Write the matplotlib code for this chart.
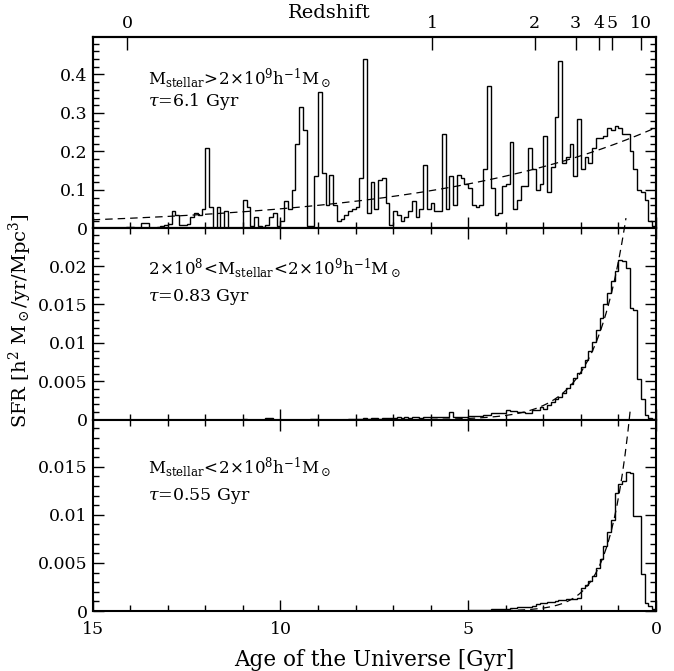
import numpy as np
import matplotlib
matplotlib.use('Agg')
from matplotlib import pyplot as plt
from matplotlib.ticker import MultipleLocator, FuncFormatter

plt.rcParams['font.family'] = 'DejaVu Serif'
plt.rcParams['mathtext.fontset'] = 'dejavuserif'

# histogram bins: 0.1 Gyr wide, listed from age 14.1 Gyr down to 0
bin_width = 0.1
age_start = 14.1

sfr_high = [0.003, 0.003, 0.002, 0.002, 0.013, 0.013, 0.002, 0.002, 0.003, 0.005,
            0.010, 0.012, 0.045, 0.035, 0.010, 0.008, 0.012, 0.030, 0.040, 0.035,
            0.050, 0.210, 0.055, 0.000, 0.055, 0.000, 0.045, 0.000, 0.000, 0.000,
            0.002, 0.075, 0.055, 0.005, 0.030, 0.005, 0.004, 0.010, 0.030, 0.040,
            0.005, 0.020, 0.070, 0.050, 0.100, 0.220, 0.315, 0.255, 0.005, 0.005,
            0.135, 0.355, 0.145, 0.060, 0.140, 0.060, 0.020, 0.025, 0.035, 0.045,
            0.050, 0.055, 0.130, 0.440, 0.040, 0.120, 0.050, 0.125, 0.130, 0.065,
            0.008, 0.045, 0.035, 0.020, 0.030, 0.045, 0.070, 0.030, 0.050, 0.165,
            0.050, 0.065, 0.045, 0.045, 0.245, 0.050, 0.135, 0.060, 0.140, 0.130,
            0.115, 0.105, 0.060, 0.055, 0.060, 0.155, 0.370, 0.105, 0.035, 0.040,
            0.110, 0.115, 0.225, 0.050, 0.075, 0.110, 0.110, 0.210, 0.155, 0.100,
            0.115, 0.240, 0.095, 0.160, 0.290, 0.435, 0.170, 0.185, 0.220, 0.135,
            0.285, 0.155, 0.185, 0.170, 0.210, 0.235, 0.235, 0.240, 0.260, 0.255,
            0.265, 0.260, 0.245, 0.245, 0.200, 0.155, 0.100, 0.095, 0.075, 0.020, 0.005]

sfr_mid = [0, 0, 0, 0, 0, 0, 0, 0, 0, 0,
           0, 0, 0, 0, 0, 0, 0, 0, 0, 0,
           0, 0, 0, 0, 0, 0, 0, 0, 0, 0,
           0, 0.0001, 0, 0, 0, 0, 0, 0.0002, 0.0002, 0,
           0, 0, 0, 0, 0, 0, 0, 0, 0, 0.00005,
           0.00005, 0, 0, 0, 0, 0, 0, 0, 0, 0.00005,
           0.0001, 0.0001, 0.0001, 0.0002, 0.0001, 0.0002, 0.0002, 0.0001, 0.0002, 0.0002,
           0.0002, 0.0002, 0.0003, 0.0002, 0.0003, 0.0002, 0.0003, 0.0003, 0.0002, 0.0003,
           0.0003, 0.0003, 0.0003, 0.0004, 0.0003, 0.0003, 0.0010, 0.0004, 0.0004, 0.0004,
           0.0004, 0.0005, 0.0005, 0.0005, 0.0005, 0.0006, 0.0006, 0.0009, 0.0009, 0.0009,
           0.0009, 0.0013, 0.0011, 0.0011, 0.0010, 0.0010, 0.0009, 0.0009, 0.0012, 0.0012,
           0.0016, 0.0014, 0.0019, 0.0023, 0.0027, 0.0030, 0.0035, 0.0041, 0.0047, 0.0054,
           0.0061, 0.0068, 0.0078, 0.0090, 0.0101, 0.0117, 0.0133, 0.0150, 0.0165, 0.0180,
           0.0193, 0.0208, 0.0207, 0.0198, 0.0145, 0.0143, 0.0053, 0.0027, 0.0006, 0.0002, 0.0001]

sfr_low = [0, 0, 0, 0, 0, 0, 0, 0, 0, 0,
           0, 0, 0, 0, 0, 0, 0, 0, 0, 0,
           0, 0, 0, 0, 0, 0, 0, 0, 0, 0,
           0, 0, 0, 0, 0, 0, 0, 0, 0, 0,
           0, 0, 0, 0, 0, 0, 0, 0, 0, 0,
           0, 0, 0, 0, 0, 0, 0, 0, 0, 0,
           0, 0, 0, 0, 0, 0, 0, 0, 0, 0,
           0, 0, 0, 0, 0, 0, 0, 0, 0, 0,
           0, 0, 0, 0, 0, 0, 0, 0, 0, 0,
           0, 0.0001, 0.0001, 0.0001, 0.0001, 0.0001, 0.0001, 0.0002, 0.0002, 0.0002,
           0.0002, 0.0002, 0.0003, 0.0003, 0.0004, 0.0004, 0.0004, 0.0004, 0.0005, 0.0007,
           0.0008, 0.0008, 0.0009, 0.0009, 0.0010, 0.0011, 0.0011, 0.0012, 0.0013, 0.0013,
           0.0014, 0.0024, 0.0027, 0.0031, 0.0036, 0.0045, 0.0054, 0.0068, 0.0082, 0.0095,
           0.0123, 0.0132, 0.0135, 0.0145, 0.0144, 0.0099, 0.0099, 0.0039, 0.0008, 0.0005, 0.0002]

# exponential fits: amplitude at age 0, e-folding time, last age drawn
fit_amp = [0.262, 0.0688, 0.0727]
fit_tau = [6.1, 0.83, 0.55]
fit_end = [0.0, 0.80, 0.68]

labels = [r'$\mathrm{M_{stellar}\!>\!2\!\times\!10^9h^{-1}M_\odot}$',
          r'$\mathrm{2\!\times\!10^8\!<\!M_{stellar}\!<\!2\!\times\!10^9h^{-1}M_\odot}$',
          r'$\mathrm{M_{stellar}\!<\!2\!\times\!10^8h^{-1}M_\odot}$']
label_y = [0.785, 0.795, 0.755]
tau_y = [0.665, 0.64, 0.60]

y_top = [0.497, 0.0249, 0.0199]
y_major = [0.1, 0.005, 0.005]
y_minor = [0.02, 0.001, 0.001]

redshift_labels = ['0', '1', '2', '3', '4', '5', '10']
redshift_ages = [14.08, 5.96, 3.23, 2.14, 1.51, 1.18, 0.40]

fig = plt.figure(figsize=(6.74, 6.71), dpi=100)
left, width = 0.1375, 0.8358
h = 0.2851
bottoms = [0.0894 + 2 * h, 0.0894 + h, 0.0894]

edges = age_start - bin_width * np.arange(len(sfr_high) + 1)
series = [sfr_high, sfr_mid, sfr_low]
fmt = FuncFormatter(lambda v, p: '%g' % round(v, 6))

axes = []
for i in range(3):
    ax = fig.add_axes([left, bottoms[i], width, h])
    ax.stairs(series[i], edges, color='k', lw=1.0)
    ages = np.linspace(15, fit_end[i], 400)
    ax.plot(ages, fit_amp[i] * np.exp(-ages / fit_tau[i]), color='k', lw=0.9,
            dashes=(6, 4), clip_on=False)
    ax.set_xlim(15, 0)
    ax.set_ylim(0, y_top[i])
    ax.xaxis.set_major_locator(MultipleLocator(5))
    ax.xaxis.set_minor_locator(MultipleLocator(1))
    ax.yaxis.set_major_locator(MultipleLocator(y_major[i]))
    ax.yaxis.set_minor_locator(MultipleLocator(y_minor[i]))
    ax.yaxis.set_major_formatter(fmt)
    ax.tick_params(which='both', direction='in', top=(i > 0), right=True, labelsize=12.5, width=1.0)
    ax.tick_params(which='major', length=8)
    ax.tick_params(which='minor', length=4)
    ax.tick_params(axis='x', pad=7)
    if i < 2:
        ax.tick_params(labelbottom=False)
    else:
        ax.xaxis.set_major_formatter(fmt)
        ax.set_xlabel('Age of the Universe [Gyr]', fontsize=15.5, labelpad=8)
    for s in ax.spines.values():
        s.set_linewidth(1.5)
    ax.text(0.098, label_y[i], labels[i], transform=ax.transAxes, fontsize=12, va='center')
    ax.text(0.098, tau_y[i], r'$\tau$=%s Gyr' % fit_tau[i], transform=ax.transAxes,
            fontsize=12.5, va='center')
    axes.append(ax)

# redshift axis on top
axz = axes[0].twiny()
axz.set_xlim(15, 0)
axz.set_xticks(redshift_ages)
axz.set_xticklabels(redshift_labels)
axz.xaxis.set_minor_locator(plt.NullLocator())
axz.tick_params(direction='in', length=9, width=1.0, labelsize=12.5, pad=4)
for s in axz.spines.values():
    s.set_linewidth(1.5)
axes[0].text(0.42, 1.125, 'Redshift', transform=axes[0].transAxes, ha='center', va='center',
             fontsize=14)

fig.text(0.03, 0.523, r'SFR [h$^2$ M$_\odot$/yr/Mpc$^3$]', rotation=90, ha='center',
         va='center', fontsize=14)

plt.savefig('out.png', dpi=100)
